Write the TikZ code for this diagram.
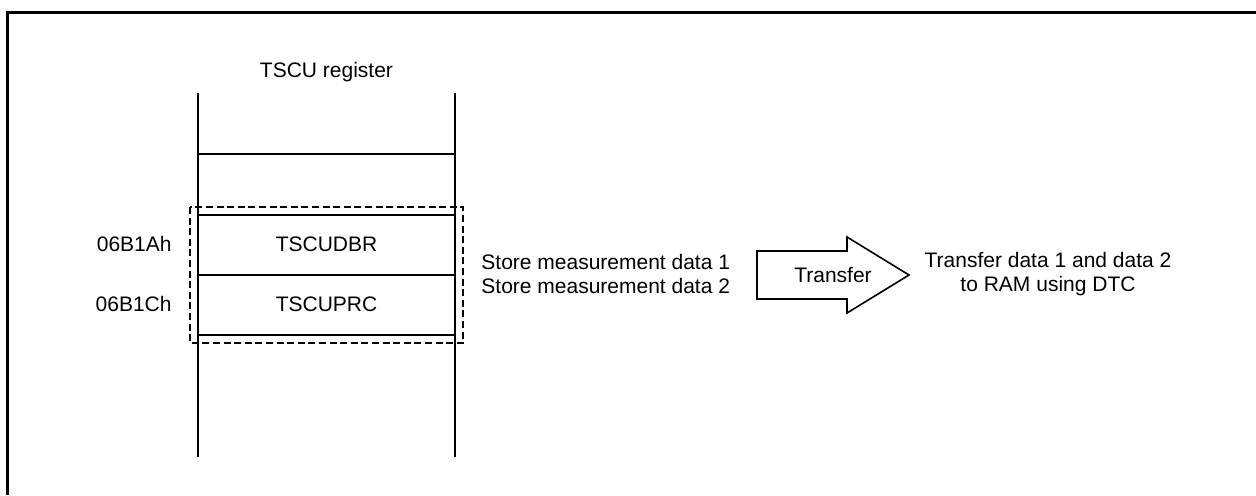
\documentclass[tikz,border=0pt]{standalone}
\usepackage{fontspec}
\setmainfont{Liberation Sans}
\begin{document}
\begin{tikzpicture}[x=0.5pt,y=-0.5pt,
  lbl/.style={font=\fontsize{10.5}{12}\selectfont, inner sep=0pt, text=black},
  regline/.style={line width=0.6pt, black},
  frameline/.style={line width=1.5pt, black},
  selbox/.style={line width=1.2pt, dash pattern=on 3.5pt off 1.8pt}]
\useasboundingbox (0,0) rectangle (1256,495);
\fill[white] (0,0) rectangle (1256,495);
% outer frame (cropped at right and bottom)
\draw[frameline] (7,495) -- (7,12) -- (1256,12);
% register column
\coordinate (cTL) at (198,93);
\coordinate (cBL) at (198,457);
\coordinate (cTR) at (455,93);
\coordinate (cBR) at (455,457);
\draw[regline] (cTL) -- (cBL);
\draw[regline] (cTR) -- (cBR);
\foreach \yy in {154,215,275,335} \draw[regline] (198,\yy) -- (455,\yy);
% dashed selection box
\draw[selbox] (190,207) rectangle (463,343);
% labels
\node[lbl] (title) at (326.5,72) {TSCU register};
\node[lbl] (dbr) at (326.5,244) {TSCUDBR};
\node[lbl] (prc) at (326.5,304) {TSCUPRC};
\node[lbl, anchor=east] (a1) at (172,244) {06B1Ah};
\node[lbl, anchor=east] (a2) at (172,304) {06B1Ch};
\node[lbl, anchor=west, align=left] (store) at (481,274) {Store measurement data 1\\Store measurement data 2};
% transfer arrow
\draw[regline, line width=0.8pt] (757,251) -- (847,251) -- (847,237) -- (909,275) -- (847,313) -- (847,299) -- (757,299) -- cycle;
\node[lbl] (transfer) at (833,275) {Transfer};
\node[lbl, align=center] (dest) at (1048,274) {Transfer data 1 and data 2\\to RAM using DTC};
\end{tikzpicture}
\end{document}
